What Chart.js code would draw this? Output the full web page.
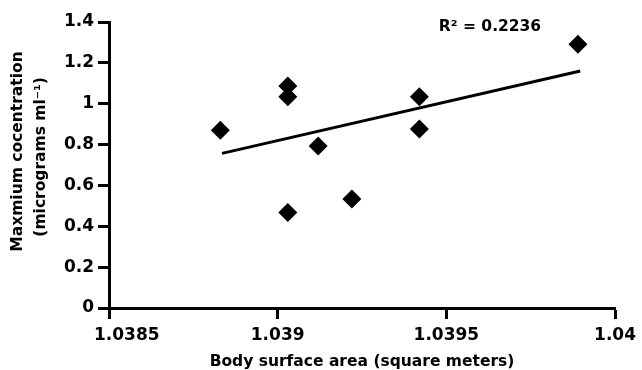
<!DOCTYPE html>
<html>
<head>
<meta charset="utf-8">
<script src="https://cdn.jsdelivr.net/npm/chart.js@4/dist/chart.umd.min.js"></script>
<style>
  html, body { margin: 0; padding: 0; background: #fff; }
  #wrap { width: 642px; height: 370px; }
</style>
</head>
<body>
<div id="wrap"><canvas id="bsa" width="642" height="370"></canvas></div>
<script>
// body surface area vs max concentration
const bsaValues = [1.03883, 1.03903, 1.03903, 1.03903, 1.03912, 1.03922, 1.03942, 1.03942, 1.03989];
const concValues = [0.87, 1.087, 1.034, 0.468, 0.793, 0.534, 1.034, 0.876, 1.291];

// fitted line end points
const trendX = [1.038835, 1.039897];
const trendY = [0.757, 1.16];

const xTickValues = [1.0385, 1.039, 1.0395, 1.04];
const xTickLabels = ['1.0385', '1.039', '1.0395', '1.04'];
const yTickValues = [0, 0.2, 0.4, 0.6, 0.8, 1, 1.2, 1.4];
const yTickLabels = ['0', '0.2', '0.4', '0.6', '0.8', '1', '1.2', '1.4'];

const rSquaredText = 'R\u00b2 = 0.2236';

const fontFam = '"DejaVu Sans", sans-serif';
const nb = (n) => '\u00a0'.repeat(n);   // padding spaces to nudge centred text

const points = bsaValues.map((x, i) => ({x: x, y: concValues[i]}));
const trend = trendX.map((x, i) => ({x: x, y: trendY[i]}));

const rsqLabel = {
  id: 'rsqLabel',
  afterDraw(chart) {
    const ctx = chart.ctx;
    ctx.save();
    ctx.font = 'bold 15.5px ' + fontFam;
    ctx.fillStyle = '#000';
    ctx.textAlign = 'center';
    ctx.textBaseline = 'middle';
    ctx.fillText(rSquaredText, 490, 27);
    ctx.restore();
  }
};

const axisLine = {
  display: true,
  drawOnChartArea: false,
  drawTicks: true,
  tickLength: 11,
  tickWidth: 3,
  tickColor: '#000'
};

new Chart(document.getElementById('bsa').getContext('2d'), {
  type: 'scatter',
  data: {
    datasets: [
      {
        data: points,
        pointStyle: 'rectRot',
        pointRadius: 9.5,
        backgroundColor: '#000',
        borderWidth: 0
      },
      {
        data: trend,
        showLine: true,
        pointRadius: 0,
        borderColor: '#000',
        borderWidth: 3
      }
    ]
  },
  options: {
    responsive: false,
    animation: false,
    layout: { padding: { top: 22, right: 26, left: 0, bottom: 0 } },
    plugins: { legend: { display: false }, tooltip: { enabled: false } },
    scales: {
      x: {
        type: 'linear',
        min: 1.0385,
        max: 1.04,
        afterBuildTicks: (s) => { s.ticks = xTickValues.map(v => ({value: v})); },
        afterFit: (s) => { s.height = 62; },
        ticks: {
          color: '#000',
          padding: 6,
          font: { family: fontFam, size: 17, weight: 'bold' },
          // first label sits right of its tick in the original
          callback: (v, i) => (i === 0 ? nb(6) : '') + xTickLabels[i]
        },
        grid: axisLine,
        border: { display: true, width: 3, color: '#000' },
        title: {
          display: true,
          text: 'Body surface area (square meters)',
          color: '#000',
          font: { family: fontFam, size: 15.5, weight: 'bold', lineHeight: 1.0 },
          padding: { top: 0, bottom: 0 }
        }
      },
      y: {
        min: 0,
        max: 1.4,
        afterBuildTicks: (s) => { s.ticks = yTickValues.map(v => ({value: v})); },
        afterFit: (s) => { s.width = 109; },
        ticks: {
          color: '#000',
          padding: 4,
          font: { family: fontFam, size: 17, weight: 'bold' },
          callback: (v, i) => yTickLabels[i]
        },
        grid: axisLine,
        border: { display: true, width: 3, color: '#000' },
        title: {
          display: true,
          text: [nb(5) + 'Maxmium cocentration', nb(3) + '(micrograms ml\u207b\u00b9)'],
          color: '#000',
          font: { family: fontFam, size: 15.5, weight: 'bold', lineHeight: 1.5 },
          padding: { top: 6, bottom: 0 }
        }
      }
    }
  },
  plugins: [rsqLabel]
});
</script>
</body>
</html>
